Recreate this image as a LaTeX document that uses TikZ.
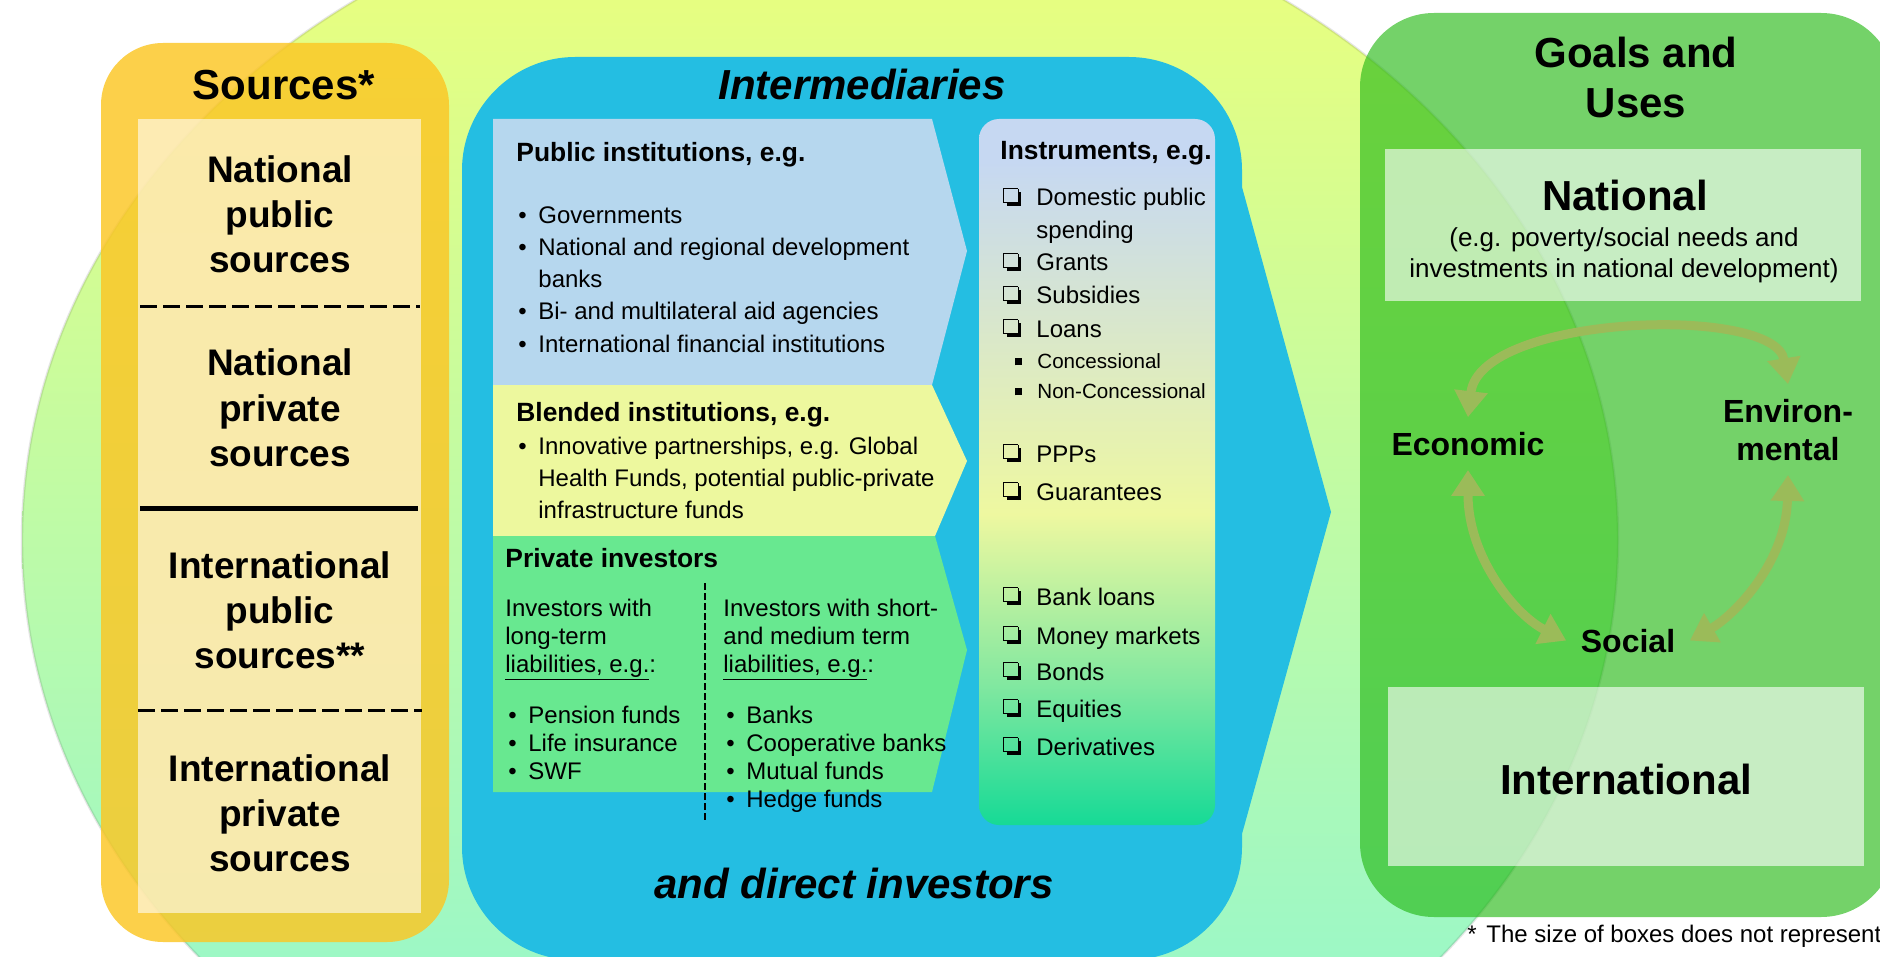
\documentclass[tikz,border=0pt]{standalone}
\usepackage{fontspec}
\setmainfont{Liberation Sans}
\usetikzlibrary{arrows.meta}

\definecolor{ballTop}{RGB}{240,255,120}
\definecolor{ballMid}{RGB}{165,255,158}
\definecolor{ballBot}{RGB}{138,246,215}
\definecolor{srcGold}{RGB}{252,198,35}
\definecolor{interBlue}{RGB}{36,190,226}
\definecolor{pubBlue}{RGB}{182,215,238}
\definecolor{blendYel}{RGB}{237,248,158}
\definecolor{privGreen}{RGB}{104,232,144}
\definecolor{insTop}{RGB}{198,216,242}
\definecolor{insYel}{RGB}{238,248,160}
\definecolor{insGrn}{RGB}{130,232,160}
\definecolor{insBot}{RGB}{22,218,150}
\definecolor{goalGreen}{RGB}{35,184,19}
\definecolor{arrowOlive}{RGB}{155,187,89}

\pgfdeclareverticalshading{instr}{100bp}{color(0bp)=(insBot); color(25bp)=(insBot);
  color(35bp)=(insGrn); color(47bp)=(insYel); color(72bp)=(insTop); color(100bp)=(insTop)}

\newcommand\bul{\makebox[10pt][l]{\textbullet}}
% shadowed check box
\newcommand\chk{\makebox[16.5pt][l]{\setlength\unitlength{1pt}\setlength\fboxrule{0.7pt}%
  \begin{picture}(9,8.6)\put(0.3,1.8){\framebox(6.8,6.8){}}%
  \put(1.6,0){\rule{7.3pt}{1.8pt}}\put(7.1,0){\rule{1.8pt}{7pt}}\end{picture}}}
\newcommand\sq{\makebox[11pt][l]{\rule[1.3pt]{3.5pt}{3.5pt}}}

\tikzset{
  txt/.style={anchor=base west, inner sep=0, font=\fontsize{12}{14}\selectfont},
  smalltxt/.style={anchor=base west, inner sep=0, font=\fontsize{10.3}{12}\selectfont},
  head/.style={anchor=base west, inner sep=0, font=\bfseries\fontsize{13.2}{15}\selectfont},
  srcname/.style={anchor=base, align=center, inner sep=0, font=\bfseries\fontsize{18.5}{22.5}\selectfont},
  bigtitle/.style={anchor=base, align=center, inner sep=0, font=\bfseries\fontsize{21}{25}\selectfont},
  ititle/.style={bigtitle, font=\bfseries\itshape\fontsize{21}{25}\selectfont},
  goalname/.style={anchor=base, align=center, outer sep=4pt, font=\bfseries\fontsize{16}{19}\selectfont},
  srcrule/.style={line width=1.5pt, dash pattern=on 8.5pt off 3pt},
  cyclearrow/.style={draw=arrowOlive, line width=4.5pt,
    {Triangle[width=16pt,length=13pt]}-{Triangle[width=16pt,length=13pt]}},
}

\begin{document}
\begin{tikzpicture}[x=0.5pt, y=-0.5pt]
\useasboundingbox[fill=white] (0,0) rectangle (1880,957);

% background ball
\shade[top color=ballTop, middle color=ballMid, bottom color=ballBot]
  (820,540) ellipse [x radius=798, y radius=664];
\draw[black!70, draw opacity=0.14, line width=1.2pt]
  (820,540) ellipse [x radius=798, y radius=664];

% sources column
\fill[srcGold, fill opacity=0.82, rounded corners=31pt] (101,43) rectangle (449,942);
\fill[white, fill opacity=0.58] (138,119) rectangle (421,913);
\draw[srcrule] (140,307) -- (420,307);
\draw[line width=2.5pt] (140,508) -- (418,508);
\draw[srcrule] (138,710) -- (422,710);

% intermediaries
\fill[interBlue] (462,847) -- (462,170) .. controls (462,108) and (513,57) .. (575,57)
  -- (1129,57) .. controls (1191,57) and (1242,108) .. (1242,170)
  -- (1242,187) -- (1331,512) -- (1242,834)
  -- (1242,847) .. controls (1242,909) and (1191,960) .. (1129,960)
  -- (575,960) .. controls (513,960) and (462,909) .. (462,847) -- cycle;
\fill[pubBlue] (493,119) -- (932,119) -- (967,251) -- (932,385) -- (493,385) -- cycle;
\fill[blendYel] (493,385) -- (932,385) -- (967,461) -- (935,536) -- (493,536) -- cycle;
\fill[privGreen] (493,536) -- (935,536) -- (967,650) -- (932,792) -- (493,792) -- cycle;
\shade[shading=instr, rounded corners=10pt] (979,119) rectangle (1215,825);
\draw[line width=1pt, dash pattern=on 3.5pt off 1.5pt] (705,583) -- (705,822);

% goals and uses
\fill[goalGreen, fill opacity=0.63, rounded corners=37pt] (1360,13) rectangle (1895,917);
\fill[white, fill opacity=0.6] (1385,149) rectangle (1861,301);
\fill[white, fill opacity=0.6] (1388,687) rectangle (1864,866);

% titles (multi-line nodes sit on their last line)
\node[bigtitle] (srcTitle) at (284,100) {Sources*};
\node[ititle] (interTitle) at (862,100) {Intermediaries};
\node[ititle] (interFoot) at (854,898) {and direct investors};
\node[bigtitle] (goalsTitle) at (1636,118) {Goals and\\Uses};

% sources
\node[srcname] (natPub) at (280,273) {National\\public\\sources};
\node[srcname] (natPriv) at (280,466) {National\\private\\sources};
\node[srcname] (intPub) at (280,668) {International\\public\\sources**};
\node[srcname] (intPriv) at (280,871) {International\\private\\sources};

% public institutions
\node[head] (pubHead) at (516,162) {Public institutions, e.g.};
\foreach \y/\t [count=\i] in {224/Governments, 256/National and regional development,
    320/Bi- and multilateral aid agencies, 352/International financial institutions}
  \node[txt] (pub\i) at (518,\y) {\bul\t};
\node[txt] (pubBanks) at (538,288) {banks};

% blended institutions
\node[head] (blendHead) at (516,422) {Blended institutions, e.g.};
\node[txt] (blend1) at (518,454) {\bul Innovative partnerships, e.g. Global};
\node[txt] (blend2) at (538,486) {Health Funds, potential public-private};
\node[txt] (blend3) at (538,518) {infrastructure funds};

% private investors
\node[head] (privHead) at (505,567) {Private investors};
\node[txt] (longA) at (505,616) {Investors with};
\node[txt] (longB) at (505,644) {long-term};
\node[txt] (longC) at (505,672) {\underline{liabilities, e.g.}:};
\node[txt] (shortA) at (723,616) {Investors with short-};
\node[txt] (shortB) at (723,644) {and medium term};
\node[txt] (shortC) at (723,672) {\underline{liabilities, e.g.}:};
\foreach \y/\t [count=\i] in {723/Pension funds, 751/Life insurance, 779/SWF}
  \node[txt] (long\i) at (508,\y) {\bul\t};
\foreach \y/\t [count=\i] in {723/Banks, 751/Cooperative banks, 779/Mutual funds, 807/Hedge funds}
  \node[txt] (short\i) at (726,\y) {\bul\t};

% instruments
\node[head] (insHead) at (1000,160) {Instruments, e.g.};
\foreach \y/\t in {206/Domestic public, 271/Grants, 304/Subsidies, 337/Loans, 462/PPPs,
    500/Guarantees, 605/Bank loans, 644/Money markets, 680/Bonds, 717/Equities, 755/Derivatives}
  \node[txt] (ins\y) at (1003,\y) {\chk\t};
\node[txt] (insSpend) at (1036,239) {spending};
\foreach \y/\t in {368/Concessional, 398/Non-Concessional}
  \node[smalltxt] (ins\y) at (1015,\y) {\sq\t};

% goals
\node[bigtitle] (goalNat) at (1625,211) {National};
\node[anchor=base, align=center, inner sep=0, font=\fontsize{13}{15.5}\selectfont]
  (goalNatNote) at (1624,278) {(e.g. poverty/social needs and\\investments in national development)};
\node[bigtitle] (goalInt) at (1626,794) {International};
\node[goalname] (econ) at (1468,455) {Economic};
\node[goalname] (env) at (1788,460) {Environ-\\mental};
\node[goalname] (social) at (1628,652) {Social};
\draw[cyclearrow] (econ.north) .. controls +(12,-103) and +(-13,-80) .. (env.north);
\draw[cyclearrow] (econ.south) .. controls +(0,88) and +(-50,-25) .. (social.west);
\draw[cyclearrow] (env.south) .. controls +(-2,88) and +(44,-25) .. (social.east);

\node[txt] (note) at (1467,942) {\makebox[9.5pt][l]{*}The size of boxes does not represent};
\end{tikzpicture}
\end{document}
